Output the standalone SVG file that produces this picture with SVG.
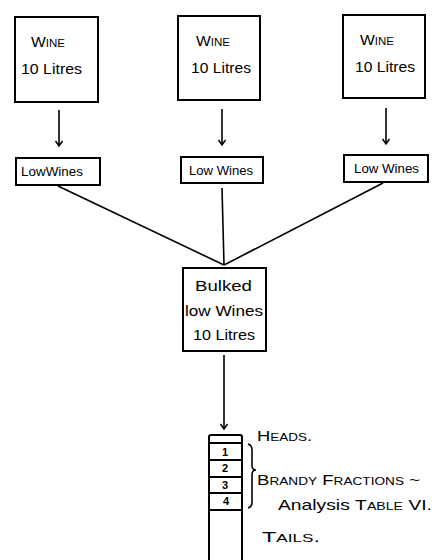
<svg xmlns="http://www.w3.org/2000/svg" width="442" height="560" viewBox="0 0 442 560">
<style>
.box{fill:none;stroke:#000;stroke-width:2}
.ln{fill:none;stroke:#000;stroke-width:1.6}
.t{font-family:"Liberation Sans",Arial,sans-serif;fill:#000}
.sc{font-variant:small-caps}
</style>
<defs>
<marker id="ah" markerWidth="10" markerHeight="10" refX="8" refY="5" orient="auto" markerUnits="userSpaceOnUse" viewBox="0 0 10 10">
<path d="M3,1.5 L8,5 L3,8.5" fill="none" stroke="#000" stroke-width="1.5"/>
</marker>
</defs>
<rect width="442" height="560" fill="#fff"/>
<g id="connectors">
<line class="ln" x1="59" y1="110" x2="59" y2="146" marker-end="url(#ah)"/>
<line class="ln" x1="222" y1="109" x2="222" y2="145" marker-end="url(#ah)"/>
<line class="ln" x1="386" y1="108" x2="386" y2="144" marker-end="url(#ah)"/>
<line class="ln" x1="58" y1="186" x2="224" y2="265"/>
<line class="ln" x1="222" y1="188" x2="224" y2="265"/>
<line class="ln" x1="383" y1="183" x2="224" y2="265"/>
<line class="ln" x1="224" y1="355" x2="224" y2="429" marker-end="url(#ah)"/>
</g>
<g id="wine1">
<rect class="box" x="15" y="17" width="83" height="85"/>
<text class="t sc" x="31" y="47" font-size="15" textLength="34" lengthAdjust="spacingAndGlyphs">Wine</text>
<text class="t" x="21" y="74" font-size="14" textLength="61" lengthAdjust="spacingAndGlyphs">10 Litres</text>
</g>
<g id="wine2">
<rect class="box" x="178" y="16" width="82" height="84"/>
<text class="t sc" x="196" y="46" font-size="15" textLength="34" lengthAdjust="spacingAndGlyphs">Wine</text>
<text class="t" x="191" y="73" font-size="14" textLength="60" lengthAdjust="spacingAndGlyphs">10 Litres</text>
</g>
<g id="wine3">
<rect class="box" x="343" y="15" width="82" height="83"/>
<text class="t sc" x="360" y="45" font-size="15" textLength="34" lengthAdjust="spacingAndGlyphs">Wine</text>
<text class="t" x="355" y="72" font-size="14" textLength="60" lengthAdjust="spacingAndGlyphs">10 Litres</text>
</g>
<g id="lowwines1">
<rect class="box" x="16" y="158" width="84" height="27"/>
<text class="t" x="21" y="176" font-size="13" textLength="62" lengthAdjust="spacingAndGlyphs">LowWines</text>
</g>
<g id="lowwines2">
<rect class="box" x="181" y="157" width="82" height="26"/>
<text class="t" x="189" y="175" font-size="13" textLength="64" lengthAdjust="spacingAndGlyphs">Low Wines</text>
</g>
<g id="lowwines3">
<rect class="box" x="344" y="155" width="84" height="27"/>
<text class="t" x="354" y="173" font-size="13" textLength="65" lengthAdjust="spacingAndGlyphs">Low Wines</text>
</g>
<g id="bulked">
<rect class="box" x="183" y="268" width="83" height="83"/>
<text class="t" x="195" y="291" font-size="15" textLength="57" lengthAdjust="spacingAndGlyphs">Bulked</text>
<text class="t" x="185" y="316" font-size="15" textLength="78" lengthAdjust="spacingAndGlyphs">low Wines</text>
<text class="t" x="193" y="340" font-size="15" textLength="62" lengthAdjust="spacingAndGlyphs">10 Litres</text>
</g>
<g id="column">
<path class="box" d="M209,560 L209,437 Q209,435 211,435 L240,435 Q242,435 242,437 L242,560"/>
<line class="box" x1="209" y1="443" x2="242" y2="443"/>
<line class="box" x1="209" y1="460" x2="242" y2="460"/>
<line class="box" x1="209" y1="477" x2="242" y2="477"/>
<line class="box" x1="209" y1="493" x2="242" y2="493"/>
<line class="box" x1="209" y1="510" x2="242" y2="510"/>
<text class="t" x="225" y="456" font-size="11" font-weight="bold" text-anchor="middle">1</text>
<text class="t" x="225" y="472" font-size="11" font-weight="bold" text-anchor="middle">2</text>
<text class="t" x="225" y="489" font-size="11" font-weight="bold" text-anchor="middle">3</text>
<text class="t" x="226" y="505" font-size="11" font-weight="bold" text-anchor="middle">4</text>
</g>
<g id="labels">
<path class="ln" d="M248,444 Q252,445 252,450 L252,465 Q252,470 256,470 Q252,470 252,475 L252,502 Q252,507 248,508"/>
<text class="t sc" x="257" y="441" font-size="15" textLength="55" lengthAdjust="spacingAndGlyphs">Heads.</text>
<text class="t sc" x="257" y="485" font-size="15" textLength="163" lengthAdjust="spacingAndGlyphs">Brandy Fractions ~</text>
<text class="t" x="278" y="510" font-size="15" textLength="154" lengthAdjust="spacingAndGlyphs">Analysis <tspan class="sc">Table VI.</tspan></text>
<text class="t sc" x="262" y="542" font-size="15" textLength="58" lengthAdjust="spacingAndGlyphs">Tails.</text>
</g>
</svg>
